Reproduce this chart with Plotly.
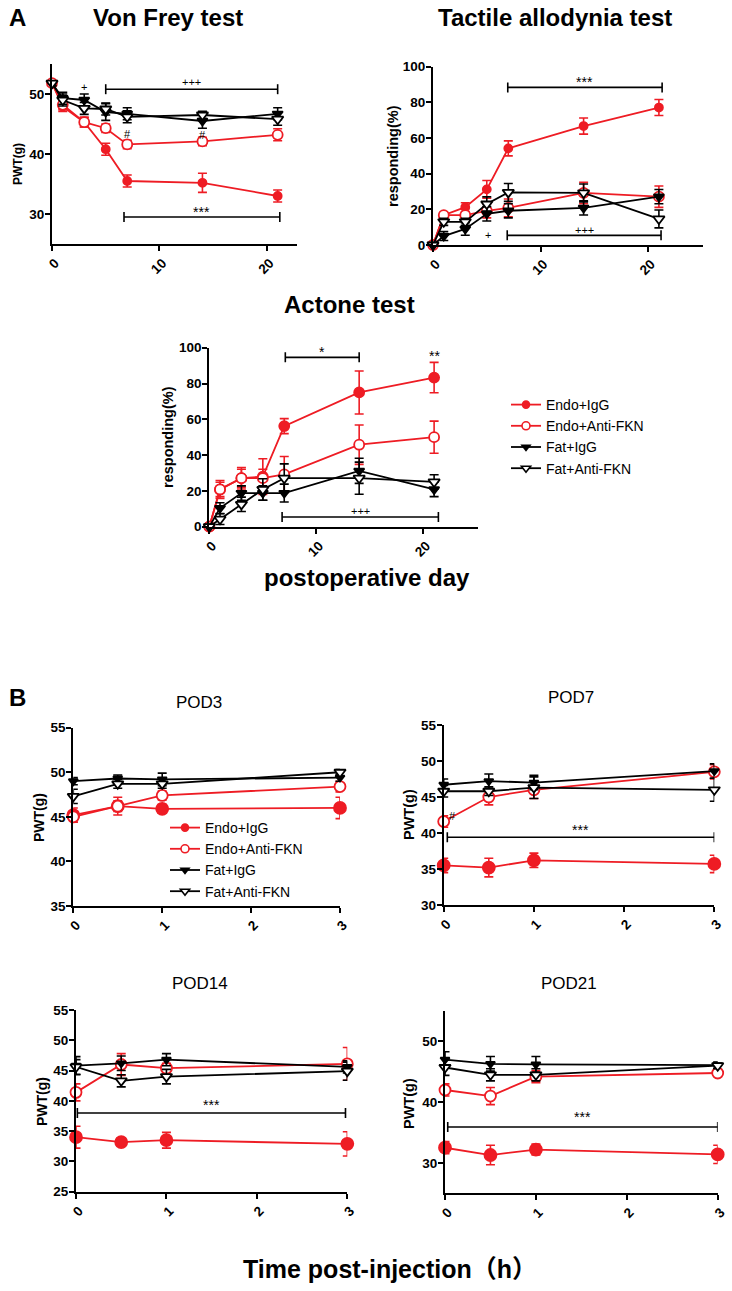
import plotly.graph_objects as go

W, H = 732, 1291
RED = "#ee1c24"
BLK = "#000000"
FONT = "Liberation Sans, Arial, Noto Sans CJK SC, sans-serif"

groups = ["Endo+IgG", "Endo+Anti-FKN", "Fat+IgG", "Fat+Anti-FKN"]

# ---------------- Panel A data (postoperative day) ----------------
days = [0, 1, 3, 5, 7, 14, 21]

vf_endo_igg = [51.8, 47.9, 45.3, 40.8, 35.5, 35.2, 33.0]
vf_endo_igg_err = [0.4, 0.8, 0.8, 1.0, 1.0, 1.6, 1.0]
vf_endo_fkn = [51.8, 48.2, 45.3, 44.3, 41.6, 42.1, 43.2]
vf_endo_fkn_err = [0.4, 0.8, 0.8, 0.7, 0.7, 0.7, 1.0]
vf_fat_igg = [51.8, 49.3, 49.0, 47.0, 46.7, 45.5, 46.7]
vf_fat_igg_err = [0.4, 1.0, 1.0, 1.4, 1.0, 1.2, 1.0]
vf_fat_fkn = [51.8, 49.0, 47.6, 47.5, 46.2, 46.5, 45.8]
vf_fat_fkn_err = [0.4, 1.0, 1.0, 1.0, 1.0, 0.6, 1.0]

ta_endo_igg = [0, 16.7, 21.2, 31.2, 54.2, 66.7, 77.1]
ta_endo_igg_err = [0, 1.5, 2.5, 5.0, 4.2, 4.5, 4.5]
ta_endo_fkn = [0, 16.7, 16.7, 19.2, 20.8, 29.2, 27.1]
ta_endo_fkn_err = [0, 1.0, 1.0, 4.0, 5.0, 6.0, 6.0]
ta_fat_igg = [0, 5.0, 9.0, 17.5, 19.2, 20.8, 27.1]
ta_fat_igg_err = [0, 2.5, 3.5, 4.0, 4.0, 4.0, 4.0]
ta_fat_fkn = [0, 13.0, 13.0, 23.0, 29.5, 29.2, 14.6]
ta_fat_fkn_err = [0, 2.0, 2.0, 4.0, 5.0, 5.0, 5.0]

ac_endo_igg = [0, 20.8, 27.1, 28.0, 56.2, 75.0, 83.3]
ac_endo_igg_err = [0, 5.0, 6.0, 10.0, 4.2, 12.0, 8.5]
ac_endo_fkn = [0, 20.8, 27.1, 27.1, 29.2, 45.8, 50.0]
ac_endo_fkn_err = [0, 4.0, 5.0, 5.0, 10.0, 11.0, 9.0]
ac_fat_igg = [0, 10.4, 18.8, 18.8, 18.8, 31.2, 20.8]
ac_fat_igg_err = [0, 3.0, 4.0, 4.0, 5.0, 7.0, 4.0]
ac_fat_fkn = [0, 4.2, 12.5, 20.8, 27.1, 27.1, 25.0]
ac_fat_fkn_err = [0, 3.0, 4.0, 6.0, 8.0, 9.0, 4.0]

# ---------------- Panel B data (time post-injection, h) ----------------
hours = [0, 0.5, 1, 3]

p3_endo_igg = [45.2, 46.2, 45.9, 46.0]
p3_endo_igg_err = [0.8, 1.0, 0.5, 1.2]
p3_endo_fkn = [45.0, 46.2, 47.4, 48.4]
p3_endo_fkn_err = [0.6, 0.6, 0.5, 0.6]
p3_fat_igg = [49.0, 49.3, 49.2, 49.4]
p3_fat_igg_err = [0.4, 0.4, 0.7, 0.4]
p3_fat_fkn = [47.3, 48.7, 48.7, 50.0]
p3_fat_fkn_err = [0.8, 0.5, 0.5, 0.3]

p7_endo_igg = [35.5, 35.2, 36.2, 35.7]
p7_endo_igg_err = [1.0, 1.3, 1.0, 1.2]
p7_endo_fkn = [41.6, 45.0, 46.0, 48.5]
p7_endo_fkn_err = [0.8, 1.1, 1.2, 1.0]
p7_fat_igg = [46.7, 47.2, 47.0, 48.6]
p7_fat_igg_err = [0.8, 1.0, 1.0, 1.0]
p7_fat_fkn = [45.8, 45.8, 46.3, 46.0]
p7_fat_fkn_err = [0.8, 0.6, 1.5, 1.6]

p14_endo_igg = [34.0, 33.2, 33.5, 32.9]
p14_endo_igg_err = [1.8, 0.7, 1.3, 2.0]
p14_endo_fkn = [41.4, 46.0, 45.4, 46.1]
p14_endo_fkn_err = [1.4, 1.8, 0.8, 2.7]
p14_fat_igg = [45.8, 46.2, 46.8, 45.6]
p14_fat_igg_err = [1.5, 1.2, 1.0, 1.0]
p14_fat_fkn = [45.6, 43.3, 44.0, 44.9]
p14_fat_fkn_err = [1.2, 1.0, 1.2, 1.5]

p21_endo_igg = [32.5, 31.3, 32.2, 31.4]
p21_endo_igg_err = [1.0, 1.6, 0.9, 1.5]
p21_endo_fkn = [42.0, 41.0, 44.2, 44.8]
p21_endo_fkn_err = [1.0, 1.4, 1.0, 0.5]
p21_fat_igg = [47.0, 46.3, 46.2, 46.1]
p21_fat_igg_err = [1.3, 1.2, 1.3, 0.5]
p21_fat_fkn = [45.7, 44.5, 44.5, 46.0]
p21_fat_fkn_err = [1.3, 1.0, 1.0, 0.5]

# Tick labels
a_xticks = [0, 10, 20]
vf_yticks = [30, 40, 50]
resp_yticks = [0, 20, 40, 60, 80, 100]
b_xticks = [0, 1, 2, 3]
p3_yticks = [35, 40, 45, 50, 55]
p7_yticks = [30, 35, 40, 45, 50, 55]
p14_yticks = [25, 30, 35, 40, 45, 50, 55]
p21_yticks = [30, 40, 50]

# Significance brackets: (panel, x0, x1, y_line, label, y_label)
brackets = [
    (1, 5.0, 21.0, 50.8, "+++", 52.0),
    (1, 6.7, 21.2, 29.5, "***", 30.3),
    (2, 6.95, 21.3, 88.4, "***", 91.5),
    (2, 6.9, 21.2, 5.4, "+++", 8.6),
    (3, 7.1, 14.0, 94.6, "*", 97.8),
    (3, 6.8, 21.4, 5.4, "+++", 9.0),
    (5, 0.04, 3.0, 39.4, "***", 40.4),
    (6, 0.015, 2.98, 38.0, "***", 39.3),
    (7, 0.03, 3.0, 35.9, "***", 37.6),
]
# Single marks: (panel, x, y, label)
marks = [
    (1, 3.0, 51.2, "+"),
    (1, 7.0, 43.4, "#"),
    (1, 14.0, 43.1, "#"),
    (2, 5.1, 5.6, "+"),
    (3, 21.0, 95.6, "**"),
    (5, 0.1, 42.4, "#"),
]

# ---------------- layout geometry (pixels) ----------------
panels = {
    1: dict(x=(52, 297), y=(64, 244), xr=[0, 22.8], yr=[25, 55], xt=a_xticks, yt=vf_yticks),
    2: dict(x=(433, 703), y=(66.7, 245), xr=[0, 25.1], yr=[0, 100], xt=a_xticks, yt=resp_yticks),
    3: dict(x=(209.3, 478), y=(347.7, 526.7), xr=[0, 25.1], yr=[0, 100], xt=a_xticks, yt=resp_yticks),
    4: dict(x=(73.3, 340), y=(727.7, 906), xr=[0, 3], yr=[35, 55], xt=b_xticks, yt=p3_yticks),
    5: dict(x=(443.7, 714.3), y=(725, 905), xr=[0, 3], yr=[30, 55], xt=b_xticks, yt=p7_yticks),
    6: dict(x=(76, 347.3), y=(1010, 1191.7), xr=[0, 3], yr=[25, 55], xt=b_xticks, yt=p14_yticks),
    7: dict(x=(445, 717.7), y=(1011, 1193.3), xr=[0, 3], yr=[25, 55], xt=b_xticks, yt=p21_yticks),
}


def px(v):
    return v / W


def py(v):
    return 1 - v / H


fig = go.Figure()

colors = [RED, RED, BLK, BLK]
fills = [RED, "white", BLK, "white"]
symbols = ["circle", "circle", "triangle-down", "triangle-down"]


def add_series(panel, xs, series, sizes, lw=1.8):
    ax = "" if panel == 1 else str(panel)
    for i, (vals, errs) in enumerate(series):
        fig.add_trace(go.Scatter(
            x=xs, y=vals, mode="lines+markers", name=groups[i],
            xaxis="x" + ax, yaxis="y" + ax,
            line=dict(color=colors[i], width=lw),
            marker=dict(symbol=symbols[i], size=sizes[i], color=fills[i],
                        line=dict(color=colors[i], width=1.8)),
            error_y=dict(type="data", array=errs, visible=True, color=colors[i],
                         thickness=1.6, width=4.5),
            cliponaxis=False, showlegend=False,
        ))


def add_legend(panel, legend, sizes):
    ax = "" if panel == 1 else str(panel)
    for i in range(4):
        fig.add_trace(go.Scatter(
            x=[None], y=[None], mode="lines+markers", name=groups[i],
            xaxis="x" + ax, yaxis="y" + ax,
            line=dict(color=colors[i], width=1.8),
            marker=dict(symbol=symbols[i], size=sizes[i], color=fills[i],
                        line=dict(color=colors[i], width=1.6)),
            showlegend=True, legend=legend,
        ))


a_sizes = [8, 10, 9, 10]
b_sizes = [12, 11, 8, 10]

add_series(1, days, [(vf_endo_igg, vf_endo_igg_err), (vf_endo_fkn, vf_endo_fkn_err),
                     (vf_fat_igg, vf_fat_igg_err), (vf_fat_fkn, vf_fat_fkn_err)], a_sizes)
add_series(2, days, [(ta_endo_igg, ta_endo_igg_err), (ta_endo_fkn, ta_endo_fkn_err),
                     (ta_fat_igg, ta_fat_igg_err), (ta_fat_fkn, ta_fat_fkn_err)], a_sizes)
add_series(3, days, [(ac_endo_igg, ac_endo_igg_err), (ac_endo_fkn, ac_endo_fkn_err),
                     (ac_fat_igg, ac_fat_igg_err), (ac_fat_fkn, ac_fat_fkn_err)],
           [10, 10, 9, 10])
add_series(4, hours, [(p3_endo_igg, p3_endo_igg_err), (p3_endo_fkn, p3_endo_fkn_err),
                      (p3_fat_igg, p3_fat_igg_err), (p3_fat_fkn, p3_fat_fkn_err)], b_sizes)
add_series(5, hours, [(p7_endo_igg, p7_endo_igg_err), (p7_endo_fkn, p7_endo_fkn_err),
                      (p7_fat_igg, p7_fat_igg_err), (p7_fat_fkn, p7_fat_fkn_err)], b_sizes)
add_series(6, hours, [(p14_endo_igg, p14_endo_igg_err), (p14_endo_fkn, p14_endo_fkn_err),
                      (p14_fat_igg, p14_fat_igg_err), (p14_fat_fkn, p14_fat_fkn_err)], b_sizes)
add_series(7, hours, [(p21_endo_igg, p21_endo_igg_err), (p21_endo_fkn, p21_endo_fkn_err),
                      (p21_fat_igg, p21_fat_igg_err), (p21_fat_fkn, p21_fat_fkn_err)], b_sizes)

add_legend(3, "legend", [7, 8, 7, 8])
add_legend(4, "legend2", [7, 8, 7, 8])

layout = dict(
    width=W, height=H, margin=dict(l=0, r=0, t=0, b=0, pad=0, autoexpand=False),
    paper_bgcolor="white", plot_bgcolor="white",
    font=dict(family=FONT, color=BLK),
    showlegend=True,
)

for k, p in panels.items():
    ax = "" if k == 1 else str(k)
    common = dict(showgrid=False, zeroline=False, showline=True, linecolor=BLK, linewidth=2,
                  ticks="outside", ticklen=5, tickwidth=2, tickcolor=BLK, automargin=False,
                  tickfont=dict(family=FONT, size=13.5, color=BLK, weight="bold"),
                  fixedrange=True)
    layout["xaxis" + ax] = dict(common, domain=[px(p["x"][0]), px(p["x"][1])],
                                range=p["xr"], tickvals=p["xt"], ticktext=[str(t) for t in p["xt"]],
                                tickangle=-45, anchor="y" + ax, ticklabelshift=3,
                                ticklabelstandoff=-1)
    layout["yaxis" + ax] = dict(common, domain=[py(p["y"][1]), py(p["y"][0])],
                                range=p["yr"], tickvals=p["yt"], ticktext=[str(t) for t in p["yt"]],
                                anchor="x" + ax, ticklabelstandoff=-2)

layout["legend"] = dict(x=px(506), y=py(389), xanchor="left", yanchor="top",
                        font=dict(family=FONT, size=14, color=BLK),
                        bgcolor="rgba(0,0,0,0)", tracegroupgap=0, itemwidth=30)
layout["legend2"] = dict(x=px(165), y=py(812), xanchor="left", yanchor="top",
                         font=dict(family=FONT, size=14, color=BLK),
                         bgcolor="rgba(0,0,0,0)", tracegroupgap=0, itemwidth=30)

shapes = []
annotations = []
for (pn, x0, x1, yl, lab, ylab) in brackets:
    ax = "" if pn == 1 else str(pn)
    xref, yref = "x" + ax, "y" + ax
    shapes.append(dict(type="line", xref=xref, yref=yref, x0=x0, x1=x1, y0=yl, y1=yl,
                       line=dict(color=BLK, width=1.6)))
    for xe in (x0, x1):
        shapes.append(dict(type="line", xref=xref, yref=yref, ysizemode="pixel", yanchor=yl,
                           x0=xe, x1=xe, y0=-5, y1=5, line=dict(color=BLK, width=1.6)))
    fs = 14 if "*" in lab else 11
    annotations.append(dict(x=(x0 + x1) / 2, y=ylab, xref=xref, yref=yref, text=lab,
                            showarrow=False, font=dict(family=FONT, size=fs, color=BLK),
                            yanchor="middle"))
for (pn, xm, ym, lab) in marks:
    ax = "" if pn == 1 else str(pn)
    fs = 14 if "*" in lab else 11
    annotations.append(dict(x=xm, y=ym, xref="x" + ax, yref="y" + ax, text=lab,
                            showarrow=False, font=dict(family=FONT, size=fs, color=BLK),
                            yanchor="middle"))

# Titles and labels (paper coordinates from pixels)
texts = [
    ("A", 17, 17, 24, True, 0),
    ("Von Frey test", 168, 17, 24, True, 0),
    ("Tactile allodynia test", 555, 18, 24, True, 0),
    ("Actone test", 349, 304, 24, True, 0),
    ("postoperative day", 367, 577, 24, True, 0),
    ("B", 17, 697, 24, True, 0),
    ("POD3", 199, 702, 17, False, 0),
    ("POD7", 571, 697, 17, False, 0),
    ("POD14", 200, 983, 17, False, 0),
    ("POD21", 569, 983, 17, False, 0),
    ("Time post-injection（h）", 390, 1269, 25, True, 0),
    ("PWT(g)", 18, 164, 12, True, -90),
    ("responding(%)", 393, 156, 14.5, True, -90),
    ("responding(%)", 168, 437, 14.5, True, -90),
    ("PWT(g)", 39, 818, 14, True, -90),
    ("PWT(g)", 409, 815, 14.5, True, -90),
    ("PWT(g)", 42, 1102, 14, True, -90),
    ("PWT(g)", 409, 1104, 14.5, True, -90),
]
for (t, x, y, s, b, ang) in texts:
    annotations.append(dict(x=px(x), y=py(y), xref="paper", yref="paper", text=t,
                            showarrow=False, textangle=ang, xanchor="center", yanchor="middle",
                            font=dict(family=FONT, size=s, color=BLK,
                                      weight="bold" if b else "normal")))

layout["shapes"] = shapes
layout["annotations"] = annotations
fig.update_layout(**layout)
fig.write_html("out.html", config={"displayModeBar": False, "staticPlot": True},
               post_script="document.body.style.margin='0px';document.body.style.padding='0px';")
